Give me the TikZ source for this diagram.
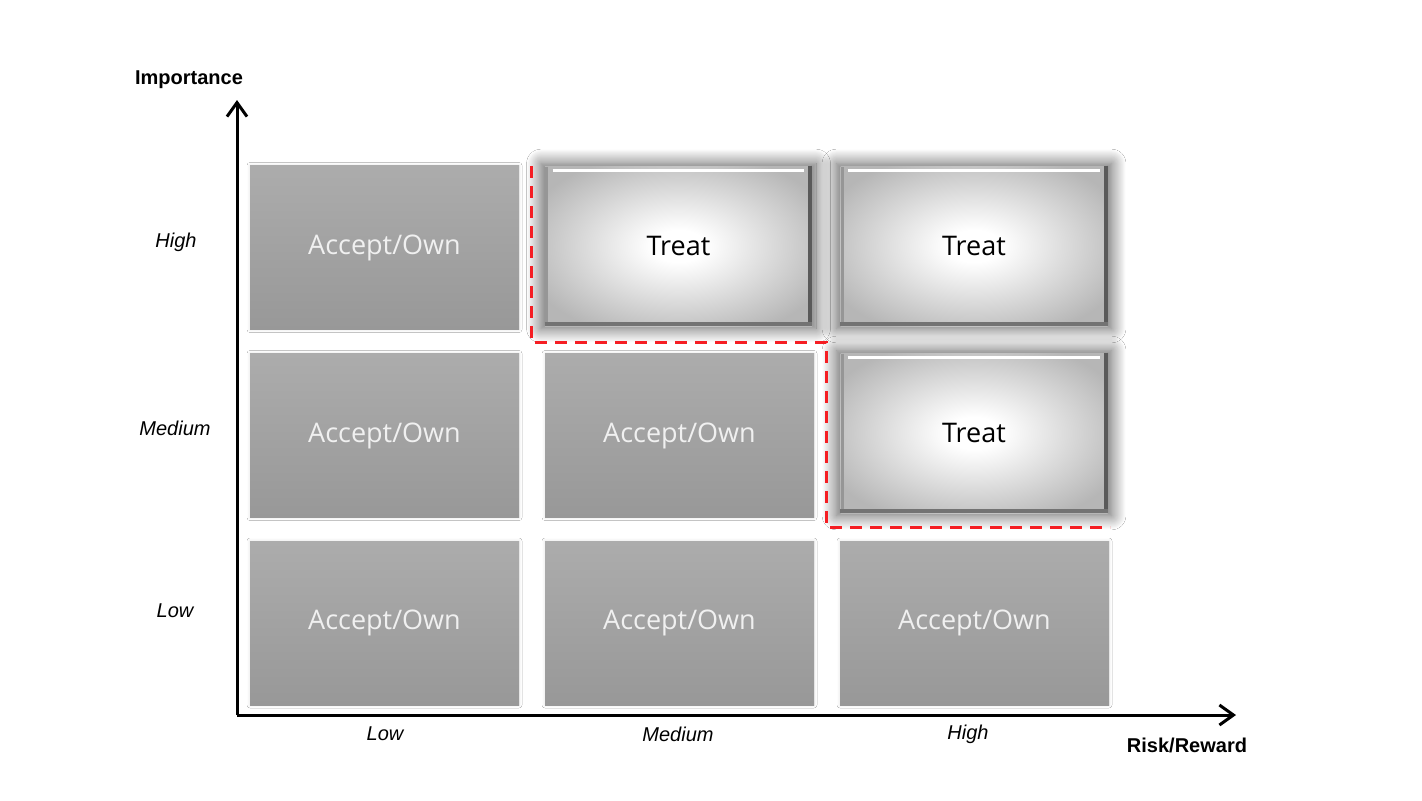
\documentclass[tikz,border=0pt]{standalone}
\usepackage{fontspec}
\setmainfont{Liberation Sans}
\newfontfamily\cellfont{Open Sans}
\usetikzlibrary{arrows.meta,shadows.blur,calc}
\definecolor{cellA}{RGB}{172,172,172}
\definecolor{cellB}{RGB}{152,152,152}
\definecolor{celltxt}{RGB}{240,240,240}
\definecolor{treatout}{RGB}{182,182,182}
\definecolor{reddash}{RGB}{245,30,35}
\pgfdeclareradialshading{treatshade}{\pgfpoint{0bp}{0bp}}{color(0bp)=(white); color(5bp)=(white); color(30bp)=(treatout); color(50bp)=(treatout)}
\begin{document}
\begin{tikzpicture}[x=0.5pt,y=-0.5pt,
  accept/.style={rectangle,minimum width=134.5pt,minimum height=82pt,inner sep=0pt,
    top color=cellA,bottom color=cellB,draw=none,text=celltxt,
    font=\cellfont\fontsize{13.5}{16}\selectfont,
    blur shadow={shadow xshift=0pt,shadow yshift=0pt,shadow blur radius=1.5pt,shadow opacity=12}},
  treat/.style={rectangle,minimum width=133.5pt,minimum height=80pt,inner sep=0pt,
    shading=treatshade,draw=none,text=black,
    font=\cellfont\fontsize{13.5}{16}\selectfont,
    blur shadow={shadow xshift=0pt,shadow yshift=0pt,shadow blur radius=7pt,shadow opacity=65,shadow scale=1.03,shadow blur steps=20}},
  axislbl/.style={font=\bfseries\fontsize{10}{12}\selectfont,inner sep=0pt},
  ticklbl/.style={font=\itshape\fontsize{10}{12}\selectfont,inner sep=0pt},
  axis/.style={line width=1.5pt,-{Straight Barb[length=7pt,width=10pt,line width=1.5pt]}},
  bevL/.style={line width=1.6pt,draw={rgb,255:red,150;green,150;blue,150}},
  bevT/.style={line width=1.4pt,draw=white},
  bevR/.style={line width=2pt,draw={rgb,255:red,90;green,90;blue,90}},
  bevB/.style={line width=2pt,draw={rgb,255:red,115;green,115;blue,115}},
  riskline/.style={line width=1.5pt,draw=reddash,dash pattern=on 6pt off 4pt}
]
\useasboundingbox (0,0) rectangle (1422,800);
\fill[white] (0,0) rectangle (1422,800);

% cells
\node[accept] (c11) at (384.5,247.5) {Accept/Own};
\node[accept] (c21) at (384.5,435.5) {Accept/Own};
\node[accept] (c22) at (679.5,435.5) {Accept/Own};
\node[accept] (c31) at (384.5,623) {Accept/Own};
\node[accept] (c32) at (679.5,623) {Accept/Own};
\node[accept] (c33) at (974.5,623) {Accept/Own};

\node[treat] (t12) at (678.5,246) {Treat};
\node[treat] (t13) at (974,246) {Treat};
\node[treat] (t23) at (974,433) {Treat};

\foreach \t in {t12,t13,t23}{
  \draw[bevL] ($(\t.north west)+(2,1)$) -- ($(\t.south west)+(2,-1)$);
  \draw[bevT] ($(\t.north west)+(8,5)$) -- ($(\t.north east)+(-8,5)$);
  \draw[bevR] ($(\t.north east)+(-2,0)$) -- ($(\t.south east)+(-2,0)$);
  \draw[bevB] ($(\t.south west)+(0,-2)$) -- ($(\t.south east)+(0,-2)$);
}

% risk boundary
\coordinate (r1) at (531,166);
\coordinate (r2) at (531,342);
\coordinate (r3) at (826,342);
\coordinate (r4) at (826,527);
\coordinate (r5) at (1110,527);
\draw[riskline] (r1) -- (r2) -- (r3) -- (r4) -- (r5);

% axes
\coordinate (o) at (237,715);
\coordinate (ytip) at (237,100);
\coordinate (xtip) at (1236,715);
\draw[axis] (o) -- (ytip);
\draw[axis] (o) -- (xtip);

\node[axislbl] (ylab) at (189,80) {Importance};
\node[axislbl] (xlab) at (1187,745) {Risk/Reward};

\node[ticklbl] (yh) at (176,242) {High};
\node[ticklbl] (ym) at (175,428) {Medium};
\node[ticklbl] (yl) at (175,611) {Low};

\node[ticklbl] (xl) at (385,734) {Low};
\node[ticklbl] (xm) at (678,734) {Medium};
\node[ticklbl] (xh) at (968,734) {High};
\end{tikzpicture}
\end{document}
